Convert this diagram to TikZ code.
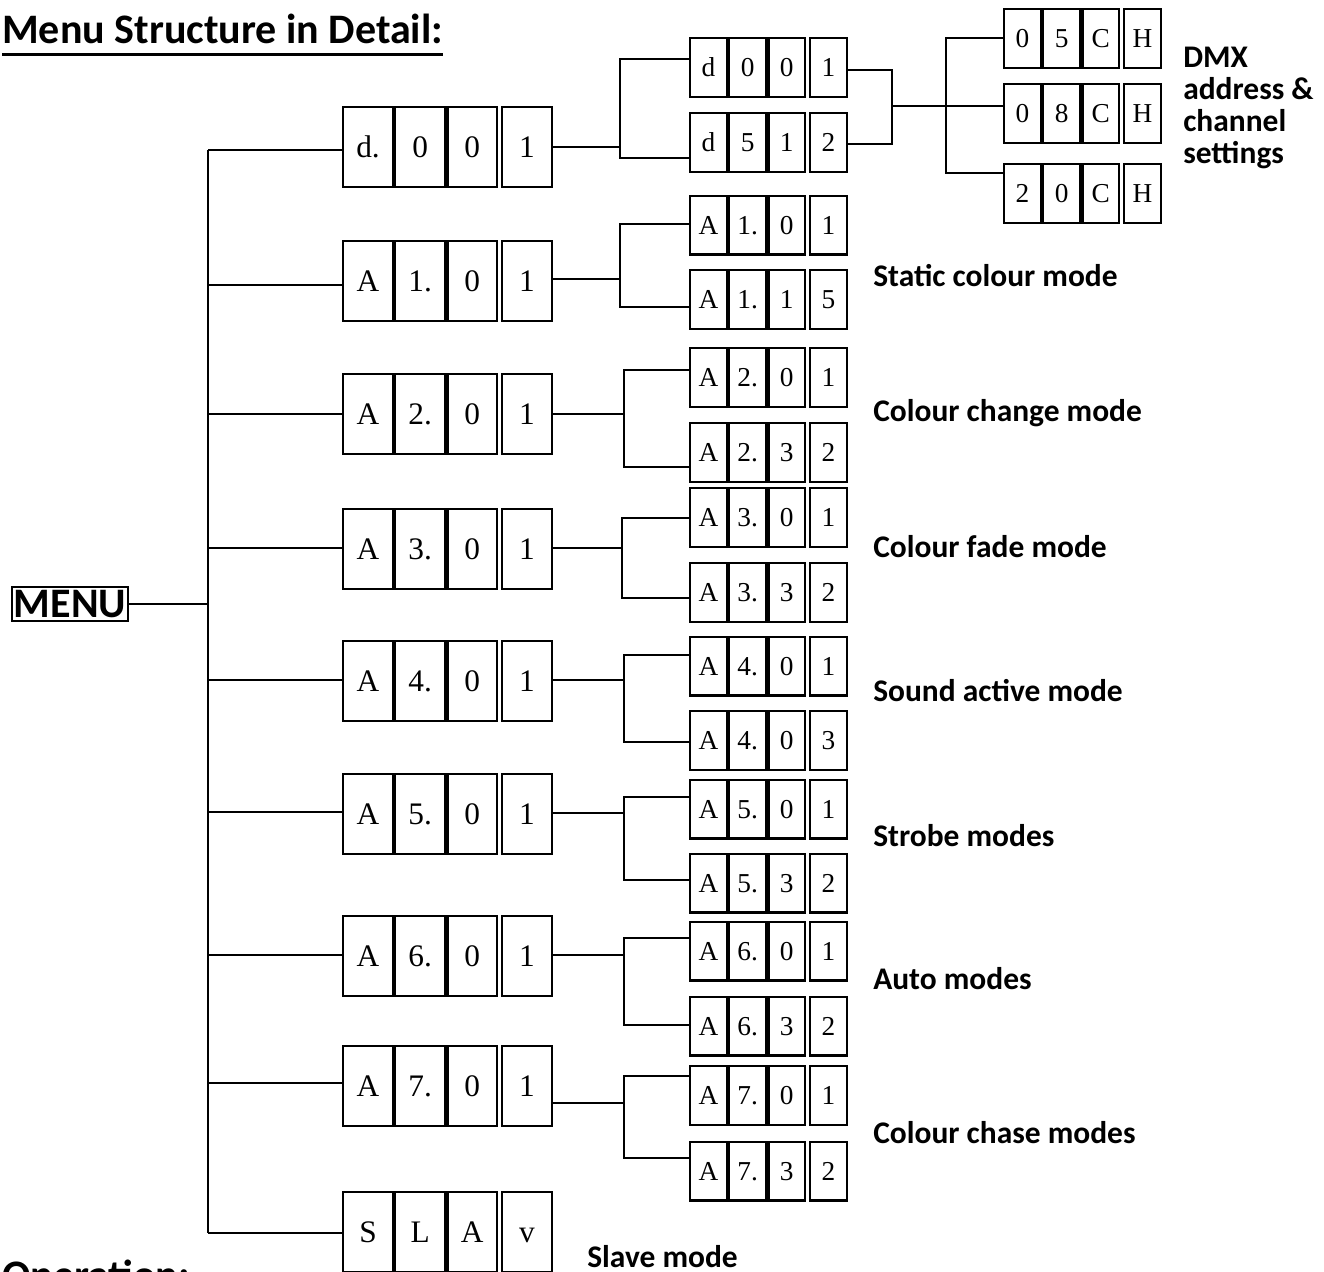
\documentclass[tikz,border=0pt]{standalone}
\usepackage{fontspec}
\newfontfamily\labelfont{Carlito}
\newfontfamily\cellfont{Liberation Serif}
\usetikzlibrary{positioning}

% one four-digit display: name, left/centre point, cell style, four signs
\newcommand{\segdisp}[7]{%
        \node[#3,anchor=west] (#1a) at (#2) {#4};
        \node[#3,right=0pt of #1a] (#1b) {#5};
        \node[#3,right=0pt of #1b] (#1c) {#6};
        \node[#3,right=2pt of #1c] (#1d) {#7};%
}
\newcommand{\ulbold}[1]{\setbox0=\hbox{#1}\rlap{\rule[-9.5pt]{\wd0}{2.2pt}}\box0}

\begin{document}
\begin{tikzpicture}[x=0.75pt,y=-0.75pt,
bigcell/.style = {draw, line width=1.8pt, inner sep=0pt,
        minimum width=37.25pt, minimum height=59.7pt,
        text height=16pt, text depth=0pt,
        font=\cellfont\fontsize{23.5}{28}\selectfont},
smallcell/.style = {draw, line width=1.8pt, inner sep=0pt,
        minimum width=27.5pt, minimum height=43.95pt,
        text height=14pt, text depth=0pt,
        font=\cellfont\fontsize{20.5}{25}\selectfont},
wire/.style = {line width=1.6pt},
modetext/.style = {anchor=base west, inner sep=0pt,
        font=\labelfont\bfseries\fontsize{23.6}{24}\selectfont},
titletext/.style = {anchor=base west, inner sep=0pt,
        font=\labelfont\bfseries\fontsize{31.5}{34}\selectfont},
menubox/.style = {draw, line width=1.6pt, inner sep=0pt,
        minimum width=86.9pt, minimum height=25.4pt,
        font=\labelfont\bfseries\fontsize{31.5}{34}\selectfont}]

        \useasboundingbox (0,0) rectangle (1324,1271);

        \node[titletext] (title) at (2,43) {\ulbold{Menu Structure in Detail:}};
        \node[titletext] (oper) at (2,1289) {Operation:};
        \node[menubox] (menu) at (70,604) {MENU};

        % first level
        \segdisp{d0}{342,147}{bigcell}{d.}{0}{0}{1}
        \segdisp{A1}{342,281}{bigcell}{A}{1.}{0}{1}
        \segdisp{A2}{342,414}{bigcell}{A}{2.}{0}{1}
        \segdisp{A3}{342,549}{bigcell}{A}{3.}{0}{1}
        \segdisp{A4}{342,681}{bigcell}{A}{4.}{0}{1}
        \segdisp{A5}{342,814}{bigcell}{A}{5.}{0}{1}
        \segdisp{A6}{342,956}{bigcell}{A}{6.}{0}{1}
        \segdisp{A7}{342,1086}{bigcell}{A}{7.}{0}{1}
        \segdisp{SL}{342,1232}{bigcell}{S}{L}{A}{v}

        % second level
        \segdisp{d0u}{689,67.5}{smallcell}{d}{0}{0}{1}
        \segdisp{d0l}{689,142.5}{smallcell}{d}{5}{1}{2}
        \segdisp{A1u}{689,225}{smallcell}{A}{1.}{0}{1}
        \segdisp{A1l}{689,299.5}{smallcell}{A}{1.}{1}{5}
        \segdisp{A2u}{689,377.5}{smallcell}{A}{2.}{0}{1}
        \segdisp{A2l}{689,452.5}{smallcell}{A}{2.}{3}{2}
        \segdisp{A3u}{689,517.5}{smallcell}{A}{3.}{0}{1}
        \segdisp{A3l}{689,592.5}{smallcell}{A}{3.}{3}{2}
        \segdisp{A4u}{689,666}{smallcell}{A}{4.}{0}{1}
        \segdisp{A4l}{689,740.5}{smallcell}{A}{4.}{0}{3}
        \segdisp{A5u}{689,809}{smallcell}{A}{5.}{0}{1}
        \segdisp{A5l}{689,883}{smallcell}{A}{5.}{3}{2}
        \segdisp{A6u}{689,951}{smallcell}{A}{6.}{0}{1}
        \segdisp{A6l}{689,1026}{smallcell}{A}{6.}{3}{2}
        \segdisp{A7u}{689,1095.5}{smallcell}{A}{7.}{0}{1}
        \segdisp{A7l}{689,1171}{smallcell}{A}{7.}{3}{2}

        % dmx channel modes
        \segdisp{ch05}{1003,38.5}{smallcell}{0}{5}{C}{H}
        \segdisp{ch08}{1003,113.5}{smallcell}{0}{8}{C}{H}
        \segdisp{ch20}{1003,193.5}{smallcell}{2}{0}{C}{H}

        \node[modetext,align=left] (dmx) at (1183,163) {DMX\\address \&\\channel\\settings};
        \node[modetext] (static) at (873,286) {Static colour mode};
        \node[modetext] (change) at (873,421) {Colour change mode};
        \node[modetext] (fade) at (873,557) {Colour fade mode};
        \node[modetext] (sound) at (873,701) {Sound active mode};
        \node[modetext] (strobe) at (873,846) {Strobe modes};
        \node[modetext] (auto) at (873,989) {Auto modes};
        \node[modetext] (chase) at (873,1143) {Colour chase modes};
        \node[modetext] (slave) at (587,1267) {Slave mode};

        % trunk
        \coordinate (trunktop) at (208,150);
        \coordinate (trunkbot) at (208,1233);
        \draw[wire] (menu.east) -- (menu.east -| trunktop);
        \draw[wire] (trunktop) -- (trunkbot);
        \draw[wire] (trunktop) -- (trunktop -| d0a.west);
        \draw[wire] (trunkbot) -- (trunkbot -| SLa.west);

        % d.001 branch
        \coordinate (d0out) at (620,147);
        \coordinate (d0top) at (620,59);
        \coordinate (d0bot) at (620,158);
        \draw[wire] (d0out -| d0d.east) -- (d0out);
        \draw[wire] (d0top -| d0ua.west) -- (d0top) -- (d0bot) -- (d0bot -| d0la.west);
        \coordinate (d0uo) at (892,70);
        \coordinate (d0lo) at (892,144);
        \coordinate (dmxin) at (892,106);
        \coordinate (dmxtop) at (946,38);
        \coordinate (dmxbot) at (946,173);
        \draw[wire] (d0uo -| d0ud.east) -- (d0uo) -- (d0lo) -- (d0lo -| d0ld.east);
        \draw[wire] (dmxin) -- (dmxin -| ch08a.west);
        \draw[wire] (dmxtop -| ch05a.west) -- (dmxtop) -- (dmxbot) -- (dmxbot -| ch20a.west);

        % A1
        \coordinate (A1in) at (208,285);
        \coordinate (A1out) at (620,279);
        \coordinate (A1top) at (620,224);
        \coordinate (A1bot) at (620,307);
        \draw[wire] (A1in) -- (A1in -| A1a.west);
        \draw[wire] (A1out -| A1d.east) -- (A1out);
        \draw[wire] (A1top -| A1ua.west) -- (A1top) -- (A1bot) -- (A1bot -| A1la.west);

        % A2
        \coordinate (A2in) at (208,414);
        \coordinate (A2out) at (624,414);
        \coordinate (A2top) at (624,370);
        \coordinate (A2bot) at (624,467);
        \draw[wire] (A2in) -- (A2in -| A2a.west);
        \draw[wire] (A2out -| A2d.east) -- (A2out);
        \draw[wire] (A2top -| A2ua.west) -- (A2top) -- (A2bot) -- (A2bot -| A2la.west);

        % A3
        \coordinate (A3in) at (208,548);
        \coordinate (A3out) at (622,548);
        \coordinate (A3top) at (622,518);
        \coordinate (A3bot) at (622,598);
        \draw[wire] (A3in) -- (A3in -| A3a.west);
        \draw[wire] (A3out -| A3d.east) -- (A3out);
        \draw[wire] (A3top -| A3ua.west) -- (A3top) -- (A3bot) -- (A3bot -| A3la.west);

        % A4
        \coordinate (A4in) at (208,680);
        \coordinate (A4out) at (624,680);
        \coordinate (A4top) at (624,655);
        \coordinate (A4bot) at (624,742);
        \draw[wire] (A4in) -- (A4in -| A4a.west);
        \draw[wire] (A4out -| A4d.east) -- (A4out);
        \draw[wire] (A4top -| A4ua.west) -- (A4top) -- (A4bot) -- (A4bot -| A4la.west);

        % A5
        \coordinate (A5in) at (208,812);
        \coordinate (A5out) at (624,813);
        \coordinate (A5top) at (624,797);
        \coordinate (A5bot) at (624,880);
        \draw[wire] (A5in) -- (A5in -| A5a.west);
        \draw[wire] (A5out -| A5d.east) -- (A5out);
        \draw[wire] (A5top -| A5ua.west) -- (A5top) -- (A5bot) -- (A5bot -| A5la.west);

        % A6
        \coordinate (A6in) at (208,955);
        \coordinate (A6out) at (624,955);
        \coordinate (A6top) at (624,938);
        \coordinate (A6bot) at (624,1025);
        \draw[wire] (A6in) -- (A6in -| A6a.west);
        \draw[wire] (A6out -| A6d.east) -- (A6out);
        \draw[wire] (A6top -| A6ua.west) -- (A6top) -- (A6bot) -- (A6bot -| A6la.west);

        % A7
        \coordinate (A7in) at (208,1083);
        \coordinate (A7out) at (624,1103);
        \coordinate (A7top) at (624,1076);
        \coordinate (A7bot) at (624,1158);
        \draw[wire] (A7in) -- (A7in -| A7a.west);
        \draw[wire] (A7out -| A7d.east) -- (A7out);
        \draw[wire] (A7top -| A7ua.west) -- (A7top) -- (A7bot) -- (A7bot -| A7la.west);

    \end{tikzpicture}
\end{document}
